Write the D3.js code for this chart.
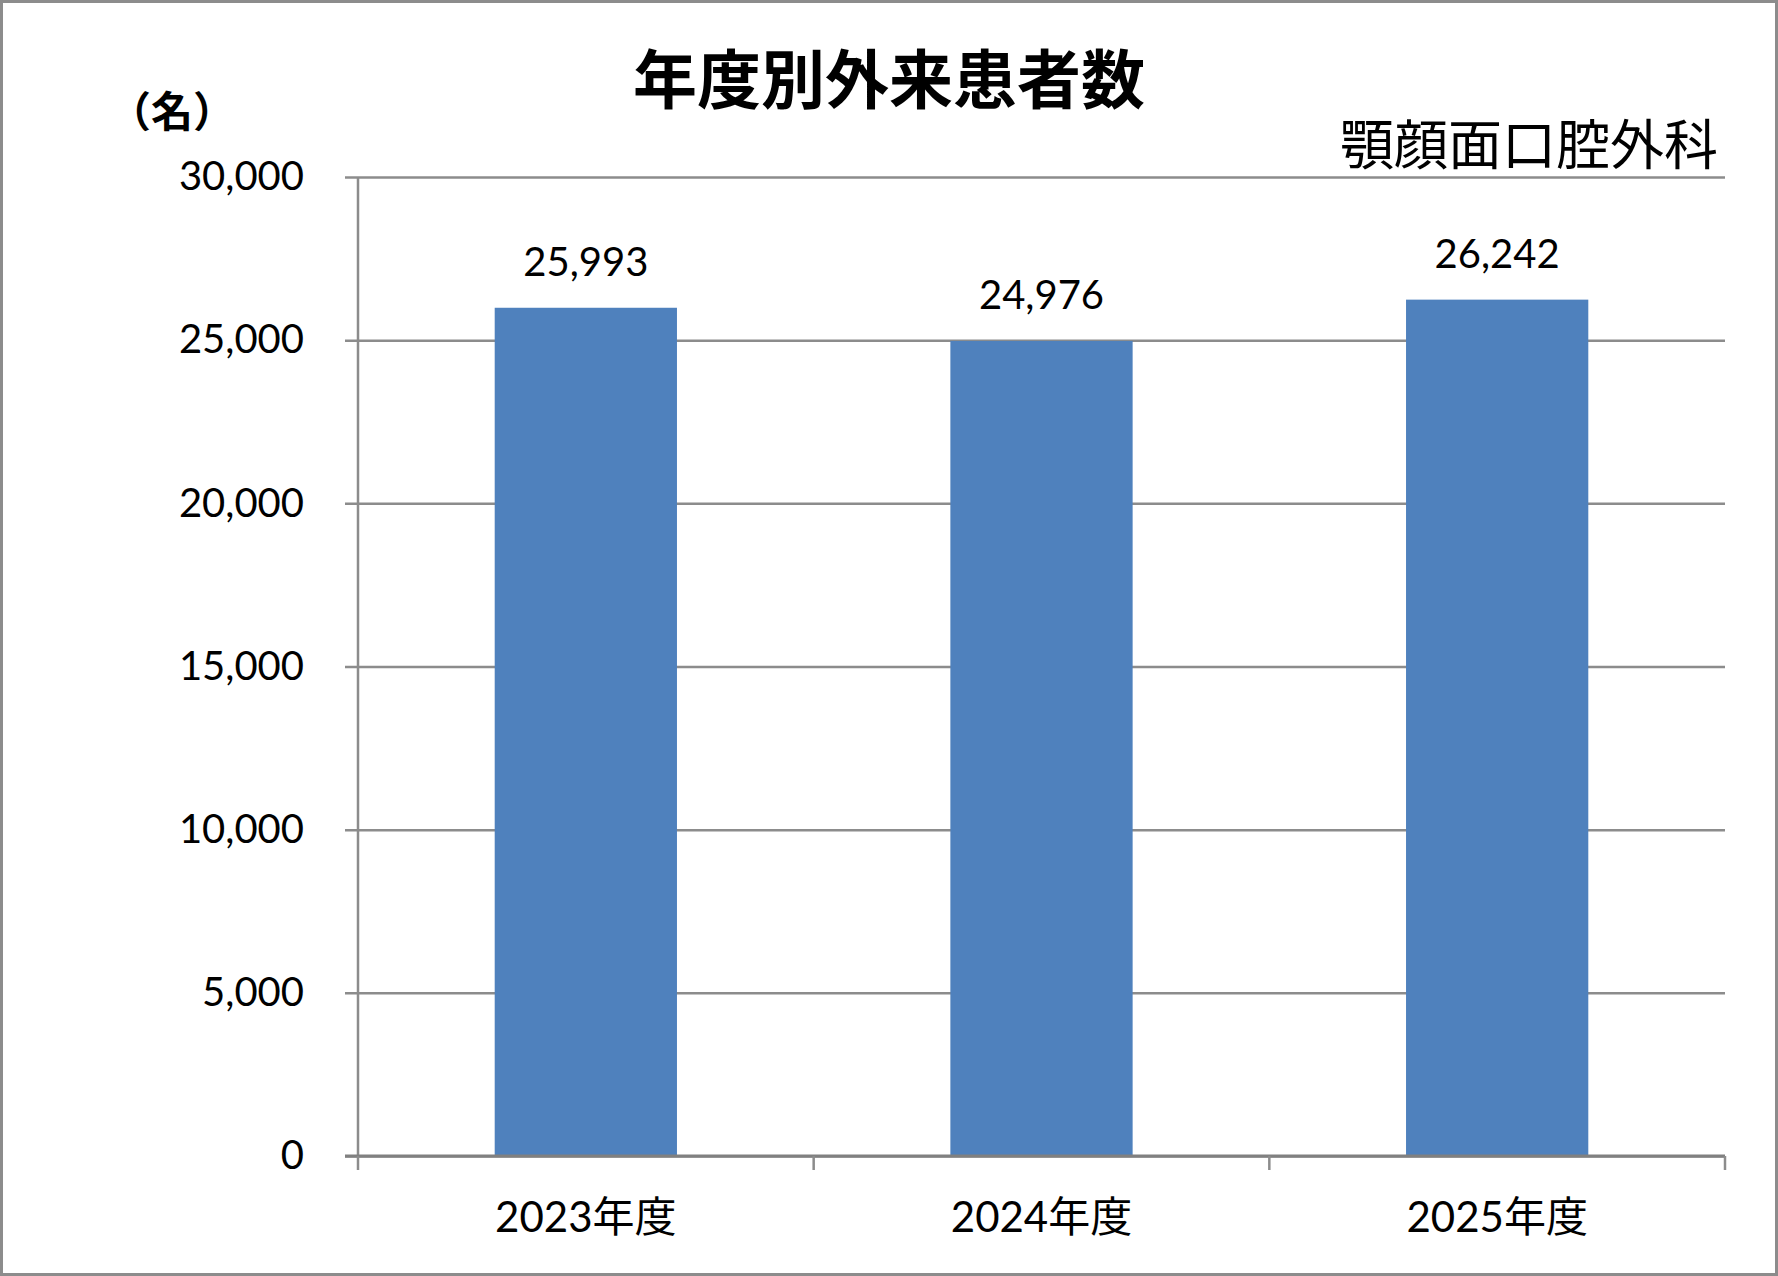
<!DOCTYPE html>
<html>
<head>
<meta charset="utf-8">
<script src="https://cdn.jsdelivr.net/npm/d3@7"></script>
<style>
  html, body { margin: 0; padding: 0; background: #fff; }
  svg { display: block; }
  text { font-family: Lato, 'Noto Sans CJK JP', sans-serif; fill: #000; }
</style>
</head>
<body>
<svg id="chart" width="1778" height="1276"></svg>
<script>
// values
const years = ['2023年度', '2024年度', '2025年度'];
const patients = [25993, 24976, 26242];
const yTicks = [0, 5000, 10000, 15000, 20000, 25000, 30000];

const W = 1778, H = 1276;
const plot = { left: 358, right: 1725, top: 177, bottom: 1156 };
const gridColor = '#8c8c8c';
const barColor = '#4f81bd';

const svg = d3.select('#chart');

// outer frame
svg.append('rect')
  .attr('x', 1.5).attr('y', 1.5)
  .attr('width', W - 3).attr('height', H - 3)
  .attr('fill', '#fff')
  .attr('stroke', gridColor)
  .attr('stroke-width', 3);

const x = d3.scaleBand()
  .domain(years)
  .range([plot.left, plot.right])
  .paddingInner(0.6)
  .paddingOuter(0.3);

const y = d3.scaleLinear()
  .domain([0, 30000])
  .range([plot.bottom, plot.top]);

const fmt = d3.format(',');

// y axis with gridlines
const yAxis = svg.append('g')
  .attr('transform', `translate(${plot.left},0)`)
  .call(d3.axisLeft(y)
    .tickValues(yTicks)
    .tickSize(-(plot.right - plot.left))
    .tickSizeOuter(0)
    .tickPadding(54)
    .tickFormat(fmt));
yAxis.select('.domain').remove();
yAxis.selectAll('.tick line')
  .attr('x1', -13)
  .attr('stroke', gridColor)
  .attr('stroke-width', 2.5);
yAxis.selectAll('.tick text')
  .attr('font-size', 40)
  .attr('font-family', "Lato, 'Noto Sans CJK JP', sans-serif")
  .attr('fill', '#000');

// vertical axis line
svg.append('line')
  .attr('x1', plot.left).attr('x2', plot.left)
  .attr('y1', plot.top).attr('y2', plot.bottom)
  .attr('stroke', gridColor)
  .attr('stroke-width', 2.5);

// bars
svg.append('g')
  .selectAll('rect')
  .data(patients)
  .join('rect')
  .attr('x', (d, i) => x(years[i]))
  .attr('y', d => y(d))
  .attr('width', x.bandwidth())
  .attr('height', d => y(0) - y(d))
  .attr('fill', barColor);

// data labels
svg.append('g')
  .selectAll('text')
  .data(patients)
  .join('text')
  .attr('x', (d, i) => x(years[i]) + x.bandwidth() / 2)
  .attr('y', d => y(d) - 32)
  .attr('text-anchor', 'middle')
  .attr('font-size', 40)
  .text(d => fmt(d));

// x axis: line, ticks at category boundaries, labels
const boundaries = years.map(d => x(d) - x.step() * 0.3).concat([plot.right]);
svg.append('line')
  .attr('x1', plot.left - 13).attr('x2', plot.right)
  .attr('y1', plot.bottom).attr('y2', plot.bottom)
  .attr('stroke', '#808080')
  .attr('stroke-width', 3);
svg.append('g')
  .selectAll('line')
  .data(boundaries)
  .join('line')
  .attr('x1', d => d).attr('x2', d => d)
  .attr('y1', plot.bottom).attr('y2', plot.bottom + 14)
  .attr('stroke', gridColor)
  .attr('stroke-width', 2.5);
svg.append('g')
  .selectAll('text')
  .data(years)
  .join('text')
  .attr('x', d => x(d) + x.bandwidth() / 2)
  .attr('y', 1232)
  .attr('text-anchor', 'middle')
  .attr('font-size', 42)
  .text(d => d);

// titles
svg.append('text')
  .attr('x', 889).attr('y', 103)
  .attr('text-anchor', 'middle')
  .attr('font-size', 64)
  .attr('font-weight', 'bold')
  .text('年度別外来患者数');

svg.append('text')
  .attr('x', 172).attr('y', 127)
  .attr('text-anchor', 'middle')
  .attr('font-size', 42)
  .attr('font-weight', 'bold')
  .text('（名）');

svg.append('text')
  .attr('x', 1718).attr('y', 165)
  .attr('text-anchor', 'end')
  .attr('font-size', 54)
  .text('顎顔面口腔外科');
</script>
</body>
</html>
